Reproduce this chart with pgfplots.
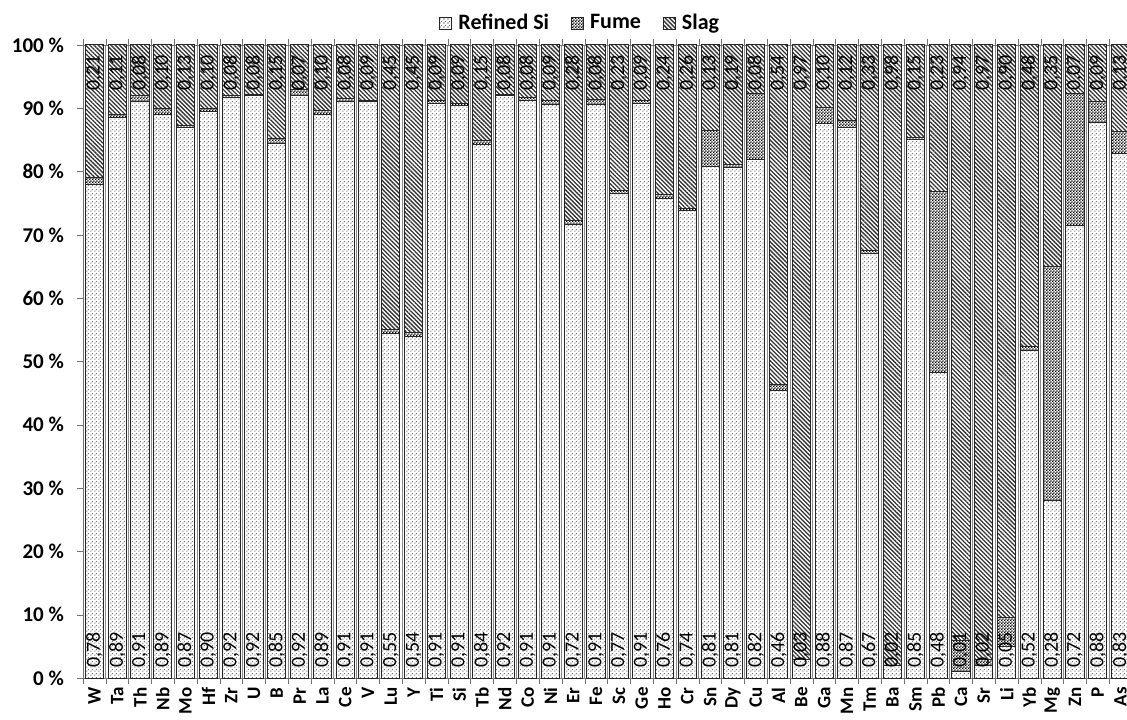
\documentclass[border=0pt]{standalone}
\usepackage{fontspec}
\setmainfont{Carlito}
\usepackage{pgfplots}
\pgfplotsset{compat=1.18}
\usepackage{pgfplotstable}
\usetikzlibrary{patterns,patterns.meta}

\pgfdeclarepatternformonly{finechecker}{\pgfqpoint{0pt}{0pt}}{\pgfqpoint{1.6pt}{1.6pt}}{\pgfqpoint{1.6pt}{1.6pt}}{%
 \pgfpathrectangle{\pgfqpoint{0pt}{0pt}}{\pgfqpoint{0.8pt}{0.8pt}}%
 \pgfpathrectangle{\pgfqpoint{0.8pt}{0.8pt}}{\pgfqpoint{0.8pt}{0.8pt}}%
 \pgfusepath{fill}}
\pgfdeclarepatternformonly{finespeck}{\pgfqpoint{0pt}{0pt}}{\pgfqpoint{1.8pt}{1.8pt}}{\pgfqpoint{1.8pt}{1.8pt}}{%
 \pgfpathrectangle{\pgfqpoint{0.2pt}{0.2pt}}{\pgfqpoint{0.6pt}{0.6pt}}%
 \pgfpathrectangle{\pgfqpoint{1.1pt}{1.1pt}}{\pgfqpoint{0.5pt}{0.5pt}}%
 \pgfusepath{fill}}

\pgfplotstableread{
x name R F S Rl Sl
0 W 78 1 21 0,78 0,21
1 Ta 88.5 0.5 11 0,89 0,11
2 Th 91 1 8 0,91 0,08
3 Nb 89 1 10 0,89 0,10
4 Mo 87 0.3 12.7 0,87 0,13
5 Hf 89.5 0.5 10 0,90 0,10
6 Zr 91.7 0.3 8 0,92 0,08
7 U 92 0.2 7.8 0,92 0,08
8 B 84.5 0.7 14.8 0,85 0,15
9 Pr 92 1 7 0,92 0,07
10 La 89 0.7 10.3 0,89 0,10
11 Ce 91 0.6 8.4 0,91 0,08
12 V 91 0.3 8.7 0,91 0,09
13 Lu 54.5 0.6 44.9 0,55 0,45
14 Y 54 0.6 45.4 0,54 0,45
15 Ti 90.8 0.4 8.8 0,91 0,09
16 Si 90.5 0.3 9.2 0,91 0,09
17 Tb 84.3 0.6 15.1 0,84 0,15
18 Nd 92 0.2 7.8 0,92 0,08
19 Co 91.2 0.5 8.3 0,91 0,08
20 Ni 90.6 0.6 8.8 0,91 0,09
21 Er 71.7 0.6 27.7 0,72 0,28
22 Fe 90.6 0.8 8.6 0,91 0,08
23 Sc 76.5 0.5 23 0,77 0,23
24 Ge 90.7 0.5 8.8 0,91 0,09
25 Ho 75.8 0.6 23.6 0,76 0,24
26 Cr 73.8 0.4 25.8 0,74 0,26
27 Sn 80.8 5.7 13.5 0,81 0,13
28 Dy 80.6 0.5 18.9 0,81 0,19
29 Cu 81.9 10.4 7.7 0,82 0,08
30 Al 45.4 1 53.6 0,46 0,54
31 Be 3 0 97 0,03 0,97
32 Ga 87.6 2.5 9.9 0,88 0,10
33 Mn 87 1 12 0,87 0,12
34 Tm 67 0.5 32.5 0,67 0,33
35 Ba 2 0 98 0,02 0,98
36 Sm 85 0.4 14.6 0,85 0,15
37 Pb 48.3 28.6 23.1 0,48 0,23
38 Ca 1 5 94 0,01 0,94
39 Sr 2 1 97 0,02 0,97
40 Li 5 4.5 90.5 0,05 0,90
41 Yb 51.8 0.6 47.6 0,52 0,48
42 Mg 28 37 35 0,28 0,35
43 Zn 71.5 20.8 7.7 0,72 0,07
44 P 87.7 3.3 9 0,88 0,09
45 As 82.8 3.5 13.7 0,83 0,13
}\data

\begin{document}
\begin{tikzpicture}
\pgfplotsset{
  common/.style={
    scale only axis, width=524.5pt, height=316.5pt,
    at={(0,0)}, anchor=south west,
    xmin=-0.5, xmax=45.5, ymin=0, ymax=100,
  },
  refstyle/.style={draw=black!85, line width=0.5pt, preaction={fill=white}, pattern=finespeck, pattern color=black!55},
  fumestyle/.style={draw=black!85, line width=0.5pt, preaction={fill=white}, pattern=finechecker, pattern color=black},
  slagstyle/.style={draw=black!85, line width=0.5pt, preaction={fill=white}, pattern={Lines[angle=-45,distance=1.5pt,line width=0.65pt]}, pattern color=black!80},
}
\begin{axis}[common,
  ybar stacked, bar width=0.8,
  /pgf/number format/assume math mode=true,
  axis line style={black!55},
  xtick={0,...,45},
  xticklabels from table={\data}{name},
  xticklabel style={rotate=90, anchor=east, font=\bfseries\fontsize{9.5}{11}\selectfont, inner sep=1.5pt},
  major x tick style={draw=none},
  minor xtick={-0.5,0.5,...,45.5},
  minor x tick style={draw=black!55},
  minor tick length=3pt,
  xminorgrids=true,
  minor x grid style={black!45, line width=0.4pt},
  ytick={0,10,...,100},
  yticklabel={\pgfmathprintnumber{\tick}~\%},
  yticklabel style={font=\bfseries\fontsize{10.5}{12}\selectfont, xshift=-3pt},
  ytick style={draw=black!55},
  major tick length=3pt,
  tick align=outside,
  legend columns=-1,
  legend style={at={(0.475,1)}, anchor=south, yshift=2pt, draw=none, fill=none,
    font=\bfseries\fontsize{11}{13}\selectfont,
    /tikz/every odd column/.append style={column sep=1pt},
    /tikz/every even column/.append style={column sep=9pt}},
  legend image code/.code={\draw[#1] (0pt,-3pt) rectangle (6pt,3pt);},
]
\addplot[refstyle] table[x=x, y=R] {\data};
\addplot[fumestyle] table[x=x, y=F] {\data};
\addplot[slagstyle] table[x=x, y=S] {\data};
\legend{Refined Si, Fume, Slag}
\end{axis}
\begin{axis}[common, hide axis, clip=false]
\addplot[draw=none, mark=none, nodes near coords, point meta=explicit symbolic,
  every node near coord/.style={rotate=90, anchor=west, inner xsep=5pt, inner ysep=0pt, font=\fontsize{10}{11}\selectfont, text=black}]
  table[x=x, y expr=0, meta=Rl] {\data};
\addplot[draw=none, mark=none, nodes near coords, point meta=explicit symbolic,
  every node near coord/.style={rotate=90, anchor=east, inner xsep=5pt, inner ysep=0pt, font=\fontsize{10}{11}\selectfont, text=black}]
  table[x=x, y expr=100, meta=Sl] {\data};
\end{axis}
\pgfresetboundingbox
\path[use as bounding box] (-41.5pt,-20.5pt) rectangle (522pt,339pt);
\end{tikzpicture}
\end{document}
